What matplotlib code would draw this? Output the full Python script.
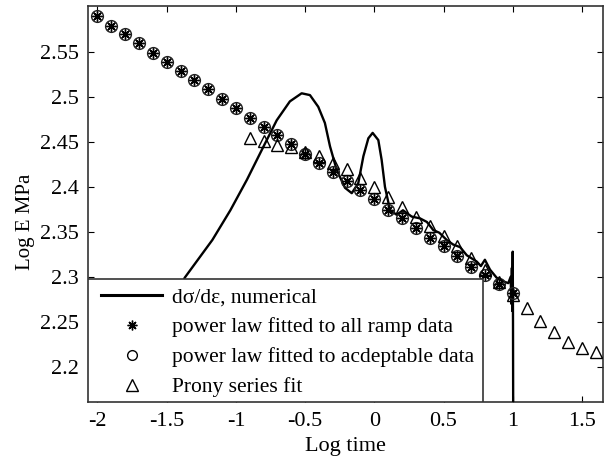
import numpy as np
import matplotlib
matplotlib.use('Agg')
from matplotlib import pyplot as plt
from matplotlib.patches import Rectangle
from matplotlib.lines import Line2D

plt.rcParams['font.family'] = ['Liberation Serif', 'DejaVu Serif']

# power law fits, log time step 0.1
pl_x = [-2.0, -1.9, -1.8, -1.7, -1.6, -1.5, -1.4, -1.3, -1.2, -1.1,
        -1.0, -0.9, -0.8, -0.7, -0.6, -0.5, -0.4, -0.3, -0.2, -0.1,
        0.0, 0.1, 0.2, 0.3, 0.4, 0.5, 0.6, 0.7, 0.8, 0.9, 1.0]
pl_y = [2.590, 2.579, 2.570, 2.560, 2.549, 2.539, 2.529, 2.519, 2.509, 2.498,
        2.488, 2.477, 2.467, 2.458, 2.448, 2.437, 2.427, 2.416, 2.406, 2.396,
        2.386, 2.374, 2.365, 2.354, 2.343, 2.334, 2.323, 2.311, 2.302, 2.292, 2.282]

# prony series fit
pr_x = [-0.9, -0.8, -0.7, -0.6, -0.5, -0.4, -0.3, -0.2, -0.1, 0.0,
        0.1, 0.2, 0.3, 0.4, 0.5, 0.6, 0.7, 0.8, 0.9, 1.0,
        1.1, 1.2, 1.3, 1.4, 1.5, 1.6]
pr_y = [2.454, 2.451, 2.447, 2.444, 2.439, 2.434, 2.426, 2.420, 2.410, 2.400,
        2.389, 2.378, 2.367, 2.356, 2.345, 2.334, 2.321, 2.308, 2.294, 2.280,
        2.265, 2.251, 2.239, 2.228, 2.221, 2.217]

# numerical d(sigma)/d(eps)
num_x = [-1.62, -1.50, -1.37, -1.17, -1.04, -0.92, -0.80, -0.705, -0.61, -0.525,
         -0.465, -0.405, -0.357, -0.32, -0.272, -0.212, -0.163, -0.116, -0.079, -0.043,
         -0.012, 0.029, 0.053, 0.077, 0.114, 0.162, 0.207, 0.27, 0.33, 0.38,
         0.426, 0.47, 0.523, 0.569, 0.62, 0.668, 0.74, 0.77, 0.799, 0.836,
         0.884, 0.932, 0.968, 0.985, 0.99, 0.994, 0.997, 1.0, 1.002, 1.004]
num_y = [2.205, 2.250, 2.299, 2.341, 2.374, 2.408, 2.445, 2.474, 2.495, 2.504,
         2.502, 2.489, 2.471, 2.445, 2.419, 2.399, 2.393, 2.404, 2.434, 2.454,
         2.460, 2.452, 2.430, 2.400, 2.374, 2.369, 2.374, 2.367, 2.365, 2.361,
         2.352, 2.349, 2.341, 2.336, 2.333, 2.324, 2.317, 2.312, 2.319, 2.308,
         2.299, 2.295, 2.293, 2.300, 2.270, 2.310, 2.262, 2.328, 2.250, 2.100]

labels = ['d\u03c3/d\u03b5, numerical',
          'power law fitted to all ramp data',
          'power law fitted to acdeptable data',
          'Prony series fit']

star = (8, 2, 0)

fig = plt.figure(figsize=(6.06, 4.62), dpi=100)
ax = fig.add_axes([0.146, 0.130, 0.849, 0.857])

ax.plot(num_x, num_y, color='black', lw=1.7, zorder=3)
ax.plot(pl_x, pl_y, ls='none', marker=star, ms=7.5, mec='black', mew=1.0, zorder=4)
ax.plot(pl_x, pl_y, ls='none', marker='o', ms=8.5, mfc='none', mec='#222222', mew=1.0, zorder=4)
ax.plot(pr_x, pr_y, ls='none', marker='^', ms=9, mfc='none', mec='black', mew=1.0, zorder=4)

ax.set_xlim(-2.065, 1.652)
ax.set_ylim(2.161, 2.601)
ax.set_xticks([-2, -1.5, -1, -0.5, 0, 0.5, 1, 1.5])
ax.set_xticklabels(['-2', '-1.5', '-1', '-0.5', '0', '0.5', '1', '1.5'])
ax.set_yticks([2.2, 2.25, 2.3, 2.35, 2.4, 2.45, 2.5, 2.55])
ax.set_yticklabels(['2.2', '2.25', '2.3', '2.35', '2.4', '2.45', '2.5', '2.55'])
ax.tick_params(direction='in', top=True, right=True, length=4, width=0.8,
               labelsize=16, pad=7)
for s in ax.spines.values():
    s.set_linewidth(1.2)
    s.set_color('#333333')

ax.set_xlabel('Log time', fontsize=16)
ax.xaxis.set_label_coords(0.5, -0.088)
ax.set_ylabel('Log E MPa', fontsize=15)
ax.yaxis.set_label_coords(-0.103, 0.455)

# legend box
box = Rectangle((0, 0), 0.767, 0.31, transform=ax.transAxes, facecolor='white',
                edgecolor='#333333', lw=1.2, zorder=5)
ax.add_patch(box)
handles = [Line2D([], [], color='black', lw=2.2),
           Line2D([], [], ls='none', marker=star, ms=7, mec='black', mew=1.0),
           Line2D([], [], ls='none', marker='o', ms=7, mfc='none', mec='black', mew=1.0),
           Line2D([], [], ls='none', marker='^', ms=8, mfc='none', mec='black', mew=1.0)]
leg = ax.legend(handles, labels, loc='upper left', bbox_to_anchor=(0.024, 0.29),
                frameon=False, fontsize=15.5, handlelength=2.85, handletextpad=0.45,
                labelspacing=0.46, borderpad=0, borderaxespad=0)
leg.set_zorder(6)

fig.savefig('out.png', dpi=100)
